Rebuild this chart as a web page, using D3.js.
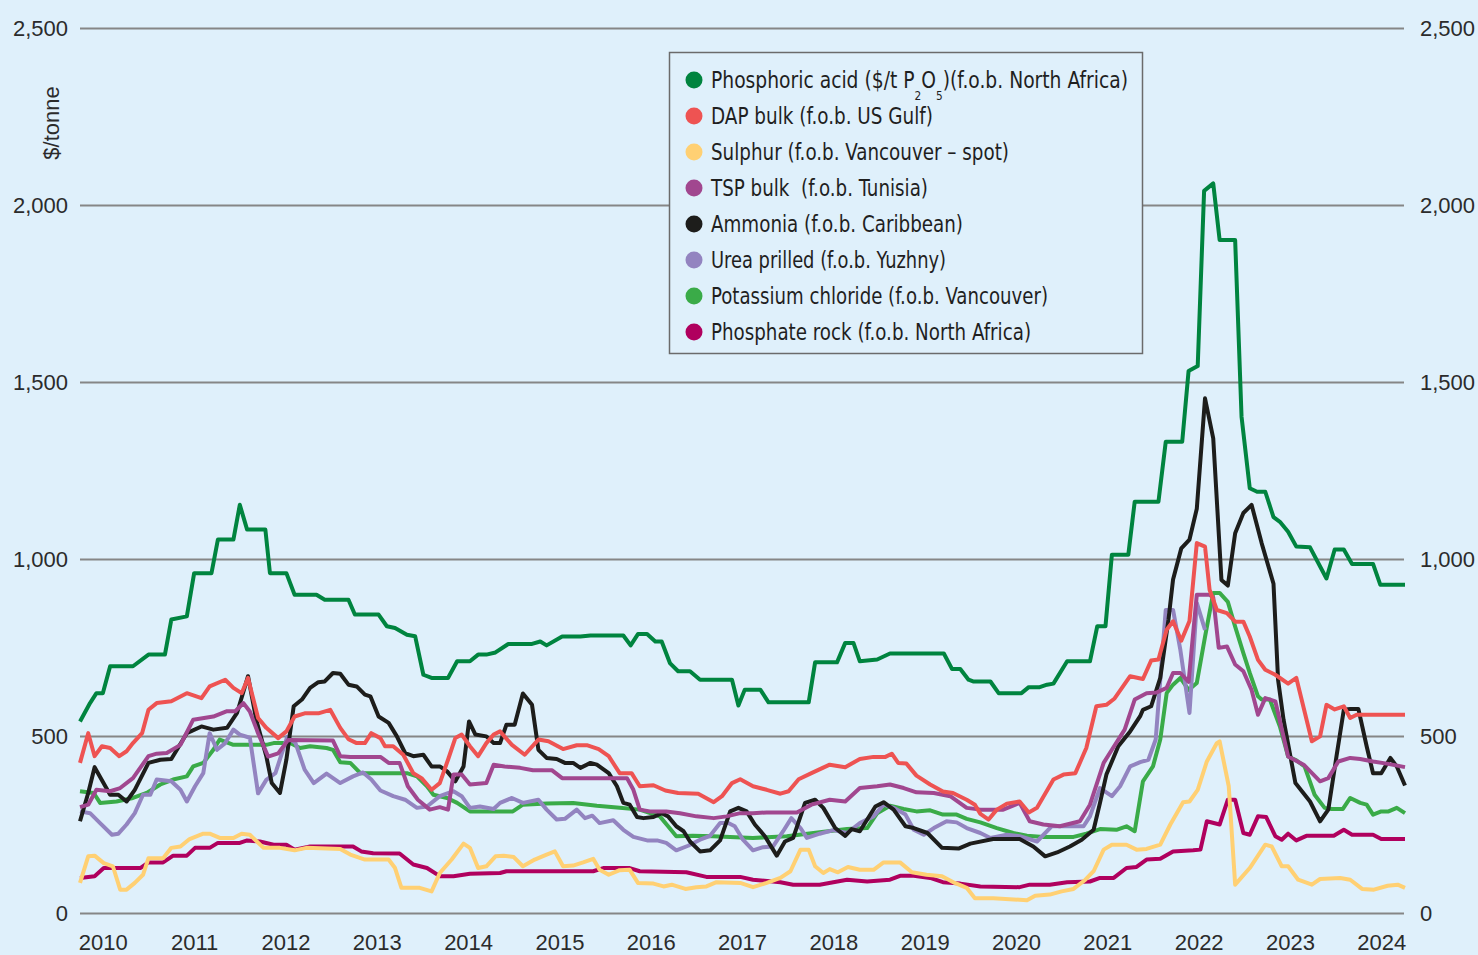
<!DOCTYPE html>
<html>
<head>
<meta charset="utf-8">
<script src="https://cdn.jsdelivr.net/npm/d3@7"></script>
<style>
  body { margin: 0; background: #dff0fb; }
  svg { display: block; }
</style>
</head>
<body>
<div id="container"></div>
<script>
// tick labels
var years = [2010, 2011, 2012, 2013, 2014, 2015, 2016, 2017, 2018, 2019, 2020, 2021, 2022, 2023, 2024];
var priceTicks = [0, 500, 1000, 1500, 2000, 2500];

// [decimal year, $/tonne]
var phosphoricAcid = [[2009.75,541],[2009.86,593],[2009.93,621],[2010.00,621],[2010.08,697],[2010.33,697],[2010.50,730],[2010.68,730],[2010.75,829],[2010.92,838],[2011.00,960],[2011.19,960],[2011.26,1055],[2011.43,1055],[2011.50,1153],[2011.58,1083],[2011.78,1083],[2011.83,960],[2012.01,960],[2012.10,899],[2012.34,899],[2012.43,885],[2012.69,885],[2012.76,843],[2013.02,843],[2013.11,810],[2013.20,805],[2013.33,786],[2013.42,782],[2013.51,673],[2013.60,664],[2013.78,664],[2013.88,711],[2014.02,711],[2014.11,730],[2014.20,730],[2014.30,736],[2014.44,760],[2014.70,760],[2014.79,767],[2014.86,756],[2015.03,781],[2015.23,781],[2015.34,784],[2015.70,784],[2015.78,756],[2015.86,788],[2015.96,788],[2016.05,767],[2016.12,767],[2016.21,706],[2016.30,683],[2016.43,683],[2016.54,659],[2016.89,659],[2016.96,586],[2017.03,631],[2017.20,631],[2017.29,595],[2017.73,595],[2017.80,708],[2018.04,708],[2018.13,763],[2018.22,763],[2018.29,711],[2018.48,716],[2018.62,733],[2019.21,733],[2019.30,689],[2019.39,689],[2019.48,659],[2019.53,654],[2019.72,654],[2019.81,621],[2020.06,621],[2020.14,638],[2020.26,638],[2020.34,645],[2020.41,648],[2020.56,711],[2020.81,711],[2020.89,810],[2020.98,810],[2021.05,1012],[2021.23,1012],[2021.30,1162],[2021.56,1162],[2021.64,1331],[2021.82,1331],[2021.89,1531],[2021.99,1545],[2022.06,2040],[2022.16,2061],[2022.23,1901],[2022.40,1901],[2022.47,1402],[2022.56,1200],[2022.64,1190],[2022.73,1190],[2022.82,1118],[2022.89,1105],[2022.98,1077],[2023.07,1035],[2023.22,1033],[2023.40,945],[2023.49,1027],[2023.59,1027],[2023.68,986],[2023.91,986],[2023.99,927],[2024.26,927]];

var dapBulk = [[2009.75,424],[2009.84,508],[2009.91,443],[2009.99,471],[2010.08,466],[2010.18,443],[2010.26,457],[2010.33,480],[2010.43,508],[2010.50,574],[2010.59,593],[2010.75,598],[2010.92,621],[2011.08,607],[2011.17,640],[2011.34,659],[2011.43,636],[2011.52,621],[2011.59,664],[2011.70,551],[2011.79,523],[2011.92,494],[2012.01,513],[2012.10,555],[2012.21,564],[2012.36,564],[2012.49,574],[2012.60,523],[2012.69,491],[2012.78,480],[2012.87,480],[2012.94,508],[2013.04,494],[2013.09,471],[2013.18,471],[2013.29,447],[2013.40,395],[2013.49,381],[2013.60,348],[2013.69,367],[2013.78,433],[2013.86,494],[2013.93,504],[2014.02,471],[2014.11,443],[2014.20,480],[2014.28,504],[2014.35,513],[2014.48,475],[2014.62,447],[2014.77,490],[2014.88,485],[2015.04,463],[2015.19,474],[2015.30,474],[2015.43,463],[2015.54,443],[2015.66,395],[2015.79,395],[2015.88,358],[2016.03,361],[2016.16,346],[2016.30,339],[2016.52,337],[2016.69,313],[2016.78,330],[2016.89,367],[2016.98,378],[2017.12,358],[2017.27,348],[2017.42,337],[2017.51,344],[2017.62,378],[2017.76,395],[2017.96,419],[2018.13,412],[2018.29,435],[2018.44,441],[2018.57,441],[2018.64,450],[2018.71,424],[2018.80,422],[2018.91,388],[2019.06,363],[2019.20,343],[2019.31,339],[2019.46,320],[2019.55,306],[2019.61,280],[2019.70,264],[2019.79,292],[2019.90,309],[2020.04,315],[2020.14,284],[2020.23,297],[2020.41,377],[2020.52,391],[2020.65,395],[2020.77,466],[2020.88,584],[2020.99,588],[2021.08,606],[2021.25,669],[2021.39,661],[2021.48,713],[2021.56,716],[2021.65,800],[2021.72,824],[2021.81,769],[2021.90,825],[2021.98,1045],[2022.07,1035],[2022.12,913],[2022.20,856],[2022.31,847],[2022.40,823],[2022.49,823],[2022.56,781],[2022.65,715],[2022.73,687],[2022.84,673],[2022.98,648],[2023.07,664],[2023.24,485],[2023.33,499],[2023.40,588],[2023.49,575],[2023.59,584],[2023.66,551],[2023.73,560],[2024.26,560]];

var sulphur = [[2009.75,85],[2009.84,160],[2009.91,162],[2010.01,141],[2010.11,132],[2010.19,66],[2010.26,66],[2010.35,85],[2010.44,108],[2010.50,155],[2010.66,155],[2010.75,184],[2010.85,188],[2010.95,209],[2011.10,224],[2011.17,224],[2011.28,212],[2011.43,212],[2011.52,224],[2011.61,221],[2011.76,184],[2011.94,184],[2012.10,177],[2012.23,184],[2012.60,181],[2012.71,165],[2012.87,151],[2013.13,151],[2013.20,127],[2013.27,71],[2013.47,71],[2013.60,61],[2013.69,113],[2013.82,151],[2013.95,196],[2014.02,184],[2014.11,127],[2014.20,132],[2014.30,160],[2014.39,162],[2014.50,158],[2014.60,132],[2014.73,151],[2014.86,165],[2014.95,174],[2015.04,132],[2015.15,134],[2015.26,143],[2015.37,153],[2015.44,122],[2015.54,108],[2015.66,121],[2015.77,122],[2015.86,85],[2016.03,83],[2016.14,75],[2016.23,80],[2016.38,68],[2016.50,73],[2016.61,75],[2016.72,87],[2016.98,85],[2017.12,73],[2017.27,85],[2017.42,99],[2017.53,118],[2017.64,179],[2017.73,179],[2017.80,132],[2017.89,113],[2017.96,124],[2018.05,115],[2018.16,130],[2018.29,122],[2018.44,122],[2018.55,143],[2018.73,143],[2018.86,115],[2019.02,108],[2019.19,104],[2019.33,85],[2019.46,71],[2019.55,42],[2019.75,42],[2020.12,36],[2020.21,49],[2020.37,52],[2020.50,61],[2020.63,68],[2020.76,94],[2020.85,118],[2020.96,179],[2021.05,193],[2021.21,193],[2021.32,179],[2021.43,181],[2021.58,193],[2021.69,250],[2021.83,313],[2021.90,315],[2021.99,348],[2022.09,428],[2022.20,480],[2022.23,485],[2022.33,358],[2022.40,80],[2022.56,127],[2022.73,193],[2022.80,188],[2022.91,132],[2022.98,132],[2023.09,94],[2023.24,80],[2023.33,96],[2023.55,99],[2023.66,94],[2023.79,68],[2023.92,66],[2024.07,77],[2024.18,80],[2024.26,71]];

var tspBulk = [[2009.75,299],[2009.84,306],[2009.93,348],[2010.08,344],[2010.19,353],[2010.33,381],[2010.50,443],[2010.59,450],[2010.70,452],[2010.85,475],[2010.99,546],[2011.21,555],[2011.36,570],[2011.45,570],[2011.54,593],[2011.61,569],[2011.70,508],[2011.81,442],[2011.92,451],[2012.03,489],[2012.52,487],[2012.60,443],[2012.71,441],[2013.04,441],[2013.13,424],[2013.25,424],[2013.34,358],[2013.45,320],[2013.58,292],[2013.69,299],[2013.78,292],[2013.84,391],[2013.93,391],[2014.02,363],[2014.20,367],[2014.28,419],[2014.40,414],[2014.57,410],[2014.71,403],[2014.92,403],[2015.03,381],[2015.74,381],[2015.81,348],[2015.88,292],[2015.99,287],[2016.17,287],[2016.32,282],[2016.50,273],[2016.69,268],[2016.83,273],[2016.98,282],[2017.12,282],[2017.27,284],[2017.60,284],[2017.76,306],[2017.96,320],[2018.13,315],[2018.29,353],[2018.48,358],[2018.62,363],[2018.77,353],[2018.91,341],[2019.10,339],[2019.28,330],[2019.46,297],[2019.61,292],[2019.86,292],[2020.04,311],[2020.15,259],[2020.30,250],[2020.48,245],[2020.70,259],[2020.81,306],[2020.96,424],[2021.05,461],[2021.19,518],[2021.30,603],[2021.43,621],[2021.54,623],[2021.65,636],[2021.72,678],[2021.80,678],[2021.89,653],[2021.98,899],[2022.12,899],[2022.16,891],[2022.22,749],[2022.31,753],[2022.40,702],[2022.49,683],[2022.58,630],[2022.65,560],[2022.73,607],[2022.84,598],[2022.98,442],[2023.15,419],[2023.33,372],[2023.42,381],[2023.53,428],[2023.66,438],[2023.77,435],[2023.91,428],[2024.06,422],[2024.26,412]];

var ammonia = [[2009.75,259],[2009.84,339],[2009.91,412],[2010.08,334],[2010.17,334],[2010.26,315],[2010.35,348],[2010.50,424],[2010.63,433],[2010.75,435],[2010.92,508],[2011.08,527],[2011.21,518],[2011.36,523],[2011.47,565],[2011.59,669],[2011.68,546],[2011.79,443],[2011.85,367],[2011.94,339],[2012.01,433],[2012.09,584],[2012.18,603],[2012.27,636],[2012.36,652],[2012.43,654],[2012.52,678],[2012.60,676],[2012.69,645],[2012.78,640],[2012.87,617],[2012.93,612],[2013.02,555],[2013.13,537],[2013.22,499],[2013.31,452],[2013.40,443],[2013.51,447],[2013.60,414],[2013.69,414],[2013.77,400],[2013.86,372],[2013.95,414],[2014.01,541],[2014.08,504],[2014.20,499],[2014.28,480],[2014.35,480],[2014.42,532],[2014.51,532],[2014.60,620],[2014.70,588],[2014.77,461],[2014.86,438],[2014.97,435],[2015.06,424],[2015.15,424],[2015.23,410],[2015.34,424],[2015.41,419],[2015.54,395],[2015.63,358],[2015.70,311],[2015.77,306],[2015.85,271],[2015.92,268],[2016.03,271],[2016.12,282],[2016.19,273],[2016.28,245],[2016.36,231],[2016.43,202],[2016.54,174],[2016.65,177],[2016.76,205],[2016.87,287],[2016.96,297],[2017.05,287],[2017.14,250],[2017.25,217],[2017.38,162],[2017.47,202],[2017.56,212],[2017.69,311],[2017.80,320],[2017.89,297],[2018.02,240],[2018.13,218],[2018.20,237],[2018.29,231],[2018.46,301],[2018.55,313],[2018.66,292],[2018.79,245],[2018.88,240],[2019.03,226],[2019.19,184],[2019.37,182],[2019.50,196],[2019.75,209],[2020.04,209],[2020.19,188],[2020.32,160],[2020.45,171],[2020.59,188],[2020.72,207],[2020.85,235],[2020.92,311],[2020.99,391],[2021.12,471],[2021.25,513],[2021.36,556],[2021.39,574],[2021.48,584],[2021.58,664],[2021.67,829],[2021.72,942],[2021.81,1030],[2021.90,1055],[2021.98,1142],[2022.07,1454],[2022.16,1341],[2022.25,941],[2022.32,925],[2022.40,1073],[2022.49,1130],[2022.58,1153],[2022.69,1045],[2022.82,930],[2022.87,659],[2022.93,546],[2023.06,367],[2023.22,315],[2023.33,259],[2023.42,292],[2023.51,443],[2023.59,574],[2023.66,576],[2023.75,576],[2023.84,471],[2023.91,395],[2024.00,395],[2024.10,438],[2024.17,414],[2024.26,360]];

var ureaPrilled = [[2009.75,287],[2009.86,282],[2009.97,254],[2010.10,221],[2010.17,224],[2010.26,250],[2010.35,282],[2010.44,334],[2010.52,334],[2010.59,377],[2010.75,372],[2010.85,348],[2010.92,315],[2011.01,358],[2011.10,395],[2011.17,508],[2011.25,461],[2011.34,480],[2011.43,518],[2011.50,504],[2011.61,495],[2011.70,338],[2011.79,376],[2011.89,395],[2012.02,498],[2012.11,480],[2012.21,405],[2012.31,367],[2012.45,394],[2012.60,367],[2012.74,386],[2012.85,397],[2012.94,377],[2013.04,346],[2013.18,330],[2013.31,320],[2013.44,297],[2013.55,301],[2013.69,330],[2013.84,344],[2013.93,330],[2014.02,297],[2014.13,301],[2014.28,294],[2014.35,311],[2014.48,325],[2014.60,311],[2014.77,320],[2014.86,292],[2014.97,264],[2015.06,266],[2015.19,292],[2015.28,268],[2015.36,275],[2015.44,254],[2015.59,262],[2015.70,235],[2015.81,215],[2015.96,205],[2016.07,205],[2016.17,198],[2016.28,177],[2016.41,190],[2016.54,207],[2016.65,218],[2016.76,254],[2016.85,254],[2016.92,245],[2017.01,207],[2017.12,177],[2017.23,186],[2017.34,188],[2017.45,231],[2017.54,268],[2017.64,240],[2017.71,212],[2017.85,224],[2018.00,234],[2018.15,226],[2018.29,254],[2018.44,273],[2018.55,306],[2018.66,297],[2018.79,278],[2018.88,235],[2018.99,221],[2019.10,240],[2019.24,259],[2019.35,256],[2019.46,240],[2019.61,226],[2019.72,212],[2019.90,221],[2020.04,217],[2020.23,202],[2020.39,245],[2020.74,245],[2020.81,273],[2020.92,353],[2021.05,330],[2021.14,358],[2021.25,414],[2021.36,426],[2021.45,433],[2021.53,490],[2021.58,659],[2021.64,856],[2021.72,856],[2021.80,743],[2021.90,565],[2021.98,876],[2022.07,800]];

var potassiumChloride = [[2009.75,344],[2009.90,339],[2009.97,311],[2010.15,315],[2010.33,325],[2010.48,339],[2010.63,363],[2010.77,377],[2010.92,386],[2010.99,414],[2011.10,424],[2011.21,461],[2011.28,490],[2011.43,475],[2011.79,475],[2011.87,480],[2012.05,480],[2012.16,466],[2012.27,471],[2012.45,466],[2012.52,461],[2012.60,426],[2012.71,424],[2012.82,395],[2013.33,395],[2013.44,386],[2013.55,358],[2013.62,334],[2013.77,325],[2013.88,311],[2014.02,287],[2014.49,287],[2014.60,306],[2014.86,309],[2015.15,311],[2015.41,303],[2015.66,297],[2015.88,292],[2016.10,273],[2016.19,245],[2016.28,217],[2016.46,218],[2016.68,217],[2017.12,212],[2017.49,217],[2017.85,228],[2018.15,237],[2018.37,240],[2018.48,282],[2018.62,303],[2018.77,294],[2018.91,287],[2019.06,290],[2019.20,278],[2019.35,278],[2019.46,266],[2019.61,256],[2019.79,240],[2019.97,226],[2020.12,218],[2020.30,215],[2020.63,215],[2020.77,224],[2020.92,237],[2021.10,235],[2021.21,245],[2021.30,231],[2021.39,372],[2021.50,414],[2021.58,490],[2021.65,621],[2021.72,645],[2021.80,664],[2021.89,630],[2021.98,650],[2022.07,780],[2022.16,904],[2022.23,904],[2022.32,879],[2022.40,809],[2022.49,734],[2022.56,678],[2022.65,612],[2022.69,603],[2022.78,603],[2022.89,527],[2022.98,442],[2023.07,431],[2023.16,414],[2023.27,334],[2023.38,297],[2023.46,294],[2023.58,294],[2023.66,325],[2023.77,311],[2023.84,306],[2023.91,278],[2024.00,287],[2024.08,287],[2024.17,297],[2024.26,282]];

var phosphateRock = [[2009.75,99],[2009.91,104],[2010.01,127],[2010.41,127],[2010.50,143],[2010.66,143],[2010.77,162],[2010.92,162],[2011.01,184],[2011.17,184],[2011.26,198],[2011.50,198],[2011.58,205],[2011.72,202],[2011.87,193],[2012.01,193],[2012.10,179],[2012.27,188],[2012.74,188],[2012.83,174],[2012.96,169],[2013.25,168],[2013.40,137],[2013.55,127],[2013.69,104],[2013.84,104],[2014.02,111],[2014.35,113],[2014.42,118],[2015.37,118],[2015.48,127],[2015.77,127],[2015.88,118],[2016.39,115],[2016.61,102],[2016.98,102],[2017.12,94],[2017.42,87],[2017.56,80],[2017.85,80],[2018.15,94],[2018.37,89],[2018.62,94],[2018.73,105],[2018.88,105],[2019.06,99],[2019.20,87],[2019.39,83],[2019.61,75],[2020.04,73],[2020.15,80],[2020.37,80],[2020.56,87],[2020.81,89],[2020.92,99],[2021.07,99],[2021.21,127],[2021.32,130],[2021.43,151],[2021.58,153],[2021.72,174],[2021.94,177],[2022.02,179],[2022.09,259],[2022.23,250],[2022.32,320],[2022.40,320],[2022.49,226],[2022.56,221],[2022.65,273],[2022.74,271],[2022.84,217],[2022.91,207],[2022.98,224],[2023.07,205],[2023.18,218],[2023.48,218],[2023.59,235],[2023.68,221],[2023.91,221],[2024.00,209],[2024.26,209]];

var seriesNames = [
  "Phosphoric acid",
  "DAP bulk (f.o.b. US Gulf)",
  "Sulphur (f.o.b. Vancouver \u2013 spot)",
  "TSP bulk\u00a0 (f.o.b. Tunisia)",
  "Ammonia (f.o.b. Caribbean)",
  "Urea prilled (f.o.b. Yuzhny)",
  "Potassium chloride (f.o.b. Vancouver)",
  "Phosphate rock (f.o.b. North Africa)"
];
var seriesColors = ["#00843f", "#ee5352", "#ffd073", "#a1478f", "#1d1d1b", "#9384c0", "#3aab48", "#b0005e"];
var seriesData = [phosphoricAcid, dapBulk, sulphur, tspBulk, ammonia, ureaPrilled, potassiumChloride, phosphateRock];
// legend text widths as set in the original (condensed face)
var legendWidths = [417, 222, 298, 217, 252, 235, 337, 320];

var drawChart = function () {
    var width = 1478, height = 955;
    var left = 80, right = 1404, top = 28, bottom = 913;

    var svg = d3.select("#container")
        .append("svg")
        .attr("width", width)
        .attr("height", height)
        .style("background", "#dff0fb");

    var x = d3.scaleLinear().domain([2009.75, 2024.26]).range([left, right + 1]);
    var y = d3.scaleLinear().domain([0, 2500]).range([bottom, top]);

    var tickFont = "'Liberation Sans', Arial, sans-serif";

    // left axis with gridlines
    var gy = svg.append("g")
        .attr("transform", "translate(" + left + ",0)")
        .call(d3.axisLeft(y).tickValues(priceTicks).tickFormat(d3.format(","))
            .tickSize(-(right - left)).tickPadding(12));
    gy.select(".domain").remove();
    gy.selectAll("line").attr("stroke", "#868686").attr("stroke-width", 2);
    gy.selectAll("text").attr("fill", "#2b2b2b").style("font-family", tickFont).style("font-size", "22px");

    // right axis labels
    var gr = svg.append("g")
        .attr("transform", "translate(" + right + ",0)")
        .call(d3.axisRight(y).tickValues(priceTicks).tickFormat(d3.format(",")).tickSize(0).tickPadding(16));
    gr.select(".domain").remove();
    gr.selectAll("text").attr("fill", "#2b2b2b").style("font-family", tickFont).style("font-size", "22px");

    // year labels
    var gx = svg.append("g")
        .attr("transform", "translate(0," + bottom + ")")
        .call(d3.axisBottom(x).tickValues(years).tickFormat(d3.format("d")).tickSize(0).tickPadding(21));
    gx.select(".domain").remove();
    gx.selectAll("text").attr("fill", "#2b2b2b").style("font-family", tickFont).style("font-size", "22px");

    // unit label
    svg.append("text")
        .attr("transform", "translate(53,123) rotate(-90)")
        .attr("text-anchor", "middle")
        .attr("dominant-baseline", "middle")
        .attr("fill", "#2b2b2b")
        .style("font-family", tickFont)
        .style("font-size", "22px")
        .text("$/tonne");

    // lines, drawn in reverse legend order so phosphoric acid is on top
    var line = d3.line()
        .x(function (d) { return x(d[0]); })
        .y(function (d) { return y(d[1]); });

    for (var i = seriesData.length - 1; i >= 0; i--) {
        svg.append("path")
            .datum(seriesData[i])
            .attr("d", line)
            .attr("fill", "none")
            .attr("stroke", seriesColors[i])
            .attr("stroke-width", 4)
            .attr("stroke-linejoin", "round")
            .attr("stroke-linecap", "butt");
    }

    // legend
    var legendFont = "'Liberation Sans Narrow', 'Arial Narrow', 'DejaVu Sans Condensed', sans-serif";
    var legend = svg.append("g");
    legend.append("rect")
        .attr("x", 669.5).attr("y", 52.5)
        .attr("width", 473).attr("height", 301)
        .attr("fill", "#dff0fb")
        .attr("stroke", "#6b6b6b")
        .attr("stroke-width", 1.5);

    seriesNames.forEach(function (name, i) {
        var cy = 80 + i * 36;
        legend.append("circle")
            .attr("cx", 694).attr("cy", cy).attr("r", 8.5)
            .attr("fill", seriesColors[i]);
        var t = legend.append("text")
            .attr("x", 711).attr("y", cy)
            .attr("dy", "0.36em")
            .attr("fill", "#1f1f1f")
            .attr("textLength", legendWidths[i])
            .attr("lengthAdjust", "spacingAndGlyphs")
            .style("font-family", legendFont)
            .style("font-size", "23px");
        if (i === 0) {
            t.append("tspan").text("Phosphoric acid ($/t P");
            t.append("tspan").attr("dy", 12).style("font-size", "13px").text("2");
            t.append("tspan").attr("dy", -12).text("O");
            t.append("tspan").attr("dy", 12).style("font-size", "13px").text("5");
            t.append("tspan").attr("dy", -12).text(")(f.o.b. North Africa)");
        } else {
            t.text(name);
        }
    });
};

window.onload = drawChart;
</script>
</body>
</html>
